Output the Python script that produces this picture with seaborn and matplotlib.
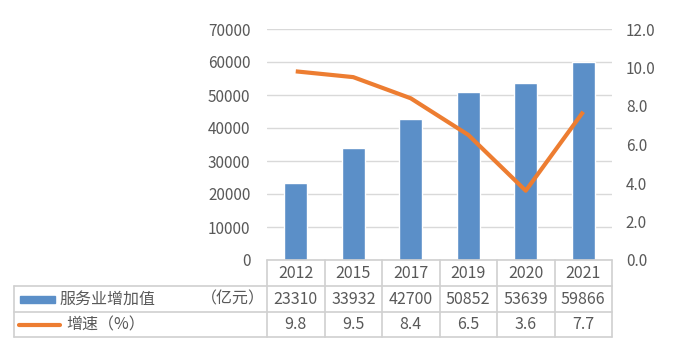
import numpy as np
import matplotlib
matplotlib.use("Agg")
import matplotlib.pyplot as plt
from matplotlib.lines import Line2D
from matplotlib.patches import Rectangle
import seaborn as sns

# data
years = ["2012", "2015", "2017", "2019", "2020", "2021"]
value_added = [23310, 33932, 42700, 50852, 53639, 59866]   # 服务业增加值（亿元）
growth = [9.8, 9.5, 8.4, 6.5, 3.6, 7.7]                      # 增速（%）
left_ticks = [0, 10000, 20000, 30000, 40000, 50000, 60000, 70000]
right_ticks = [0, 2, 4, 6, 8, 10, 12]

bar_color = "#5B8FC8"
line_color = "#ED7D31"
text_gray = "#595959"
grid_gray = "#D9D9D9"
table_gray = "#D0D0D0"

sns.set_theme(style="white")
plt.rcParams["font.family"] = ["Noto Sans CJK SC", "DejaVu Sans"]

W, H = 680, 354
fig = plt.figure(figsize=(6.8, 3.54), dpi=100)

# plot area in pixels
x0, x1 = 267, 612
y_top, y_bot = 29, 260
ax = fig.add_axes([x0 / W, 1 - y_bot / H, (x1 - x0) / W, (y_bot - y_top) / H])

sns.barplot(x=np.arange(len(years)), y=value_added, color=bar_color,
            saturation=1, width=0.394, ax=ax)
ax.set_xlim(-0.5, len(years) - 0.5)
ax.set_ylim(0, 70000)
ax.set_yticks(left_ticks)
ax.set_yticklabels([str(t) for t in left_ticks])
ax.set_xticks([])
ax.set_xlabel("")
ax.set_ylabel("")
ax.yaxis.grid(True, color=grid_gray, lw=1)
ax.set_axisbelow(True)
for s in ax.spines.values():
    s.set_visible(False)

ax2 = ax.twinx()
sns.lineplot(x=np.arange(len(years)), y=growth, color=line_color, lw=3,
             ax=ax2, solid_capstyle="butt")
ax2.set_ylim(0, 12)
ax2.set_yticks(right_ticks)
ax2.set_yticklabels([f"{t:.1f}" for t in right_ticks])
ax2.set_ylabel("")
ax2.grid(False)
for s in ax2.spines.values():
    s.set_visible(False)

# twinx turns the left ticks back on, so style both after it
ax.tick_params(axis="y", left=False, right=False, length=0,
               labelsize=11, labelcolor=text_gray, pad=12)
ax2.tick_params(axis="y", left=False, right=False, length=0,
                labelsize=11, labelcolor=text_gray, pad=10)

# data table underneath, drawn in pixel space
tab = fig.add_axes([0, 0, 1, 1])
tab.set_xlim(0, W)
tab.set_ylim(H, 0)
tab.axis("off")
tab.patch.set_alpha(0)

col_w = (x1 - x0) / len(years)
rows = [260, 286, 312, 337]
tl = 14


def hline(y, xa, xb):
    tab.add_line(Line2D([xa, xb], [y, y], color=table_gray, lw=1.2))


def vline(x, ya, yb):
    tab.add_line(Line2D([x, x], [ya, yb], color=table_gray, lw=1.2))


hline(rows[0], x0, x1)
for y in rows[1:]:
    hline(y, tl, x1)
vline(tl, rows[1], rows[3])
for i in range(len(years) + 1):
    vline(x0 + i * col_w, rows[0], rows[3])

fs = 11.5
for i, yr in enumerate(years):
    cx = x0 + (i + 0.5) * col_w
    tab.text(cx, (rows[0] + rows[1]) / 2, yr, ha="center", va="center",
             fontsize=fs, color=text_gray)
    tab.text(cx, (rows[1] + rows[2]) / 2, str(value_added[i]), ha="center",
             va="center", fontsize=fs, color=text_gray)
    tab.text(cx, (rows[2] + rows[3]) / 2, f"{growth[i]:.1f}", ha="center",
             va="center", fontsize=fs, color=text_gray)

# legend keys inside the table
r1 = (rows[1] + rows[2]) / 2
r2 = (rows[2] + rows[3]) / 2
tab.add_patch(Rectangle((20, r1 - 3.5), 35, 7, color=bar_color))
tab.add_line(Line2D([19, 60], [r2, r2], color=line_color, lw=3,
                    solid_capstyle="round"))
tab.text(60, r1, "服务业增加值", ha="left", va="center", fontsize=fs, color=text_gray)
tab.text(265, r1, "（亿元）", ha="right", va="center", fontsize=fs, color=text_gray)
tab.text(66, r2, "增速（%）", ha="left", va="center", fontsize=fs, color=text_gray)

fig.savefig("out.png", dpi=100)
